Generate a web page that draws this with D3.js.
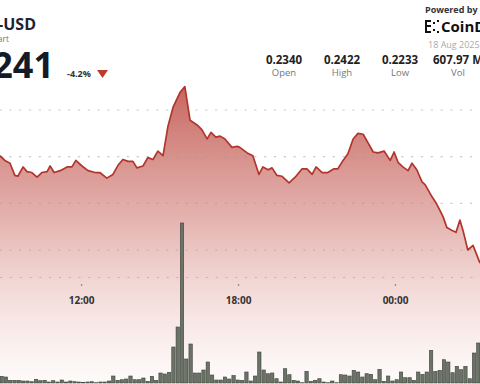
<!DOCTYPE html>
<html><head><meta charset="utf-8">
<script src="https://cdn.jsdelivr.net/npm/d3@7"></script>
<style>
html,body{margin:0;padding:0;background:#fff;}
svg{display:block;font-family:"Open Sans",sans-serif;}
</style></head>
<body>
<svg id="chart" width="480" height="384"></svg>
<script>
// ---- data ----
const symbol = "DOGE-USD";
const subtitle = "Chart";
const lastPrice = "0.2241";
const changePct = "-4.2%";
const dateLabel = "18 Aug 2025";
const statLabels = ["Open", "High", "Low", "Vol"];
const statValues = ["0.2340", "0.2422", "0.2233", "607.97 M"];
const tickLabels = ["12:00", "18:00", "00:00"];
const gridPrices = [0.225, 0.230, 0.235, 0.240];

const priceTimes = ["08:54","09:05","09:17","09:28","09:35","09:47","09:56","10:07","10:19","10:30","10:42","10:49","10:58","11:12","11:28","11:39","11:48","12:02","12:16","12:32","12:43","12:59","13:13","13:25","13:36","13:48","13:59","14:08","14:22","14:33","14:45","14:56","15:08","15:19","15:31","15:47","15:58","16:10","16:26","16:37","16:49","16:58","17:09","17:19","17:30","17:46","17:58","18:04","18:21","18:34","18:48","18:57","19:09","19:18","19:29","19:41","19:57","20:11","20:27","20:38","20:50","20:59","21:13","21:26","21:40","21:49","22:01","22:12","22:24","22:35","22:47","22:58","23:10","23:21","23:35","23:49","23:58","00:07","00:18","00:30","00:39","00:50","01:02","01:09","01:25","01:36","01:50","01:59","02:11","02:20","02:29","02:36","02:47","02:59","03:15"];
const prices = [0.2351,0.2346,0.2343,0.2330,0.2329,0.2339,0.2334,0.2333,0.2328,0.2333,0.2334,0.2340,0.2333,0.2335,0.2339,0.2339,0.2346,0.2340,0.2335,0.2333,0.2333,0.2327,0.2331,0.2341,0.2347,0.2345,0.2345,0.2338,0.2340,0.2349,0.2347,0.2356,0.2351,0.2382,0.2403,0.2419,0.2425,0.2389,0.2384,0.2379,0.2369,0.2376,0.2371,0.2372,0.2369,0.2360,0.2361,0.2360,0.2354,0.2351,0.2331,0.2339,0.2336,0.2338,0.2330,0.2329,0.2322,0.2328,0.2337,0.2337,0.2331,0.2339,0.2333,0.2333,0.2337,0.2337,0.2346,0.2353,0.2369,0.2375,0.2374,0.2365,0.2355,0.2354,0.2356,0.2346,0.2355,0.2344,0.2339,0.2335,0.2343,0.2336,0.2323,0.2320,0.2307,0.2299,0.2286,0.2274,0.2271,0.2269,0.2282,0.2271,0.2250,0.2255,0.2236];

const volumes = [6.7,6,2.7,2.7,2.7,2,2,1.3,3.7,2.3,2.7,1,2.3,1,3,1,2,1.3,1,0.7,1,1.3,0.3,1,1,2,7,2.7,3.3,4,7,3.3,3.3,5,1.7,6.7,2.7,10,9,10.7,36,56,160,24,39,10,10,13,21,8,3,3,6,4,7.5,3,
 2.7,11,2,7,31,13,9.3,10,4.3,1,14.3,8.3,2.7,2,0.3,11.7,1.7,2.7,4.3,1,0.3,2,0.3,8.3,8,7,12.7,11,6,9.3,8.7,3.3,13.7,1.7,7,2,3.3,11,5.3,5.3,2.7,11,8.7,11,32.7,11.7,12.7,23.3,21,10.3,16.7,13.3,16.7,4.3,30,40];

// ---- helpers ----
const day0 = "2025-08-17", day1 = "2025-08-18";
const parseT = d3.timeParse("%Y-%m-%d %H:%M");
const toDate = s => parseT((+s.slice(0,2) < 8 ? day1 : day0) + " " + s);
const series = priceTimes.map((t,i) => ({t: toDate(t), p: prices[i]}));

const W = 480, H = 384;
const svg = d3.select("#chart");

const x = d3.scaleTime().domain([toDate("08:54"), toDate("03:15")]).range([0, W]);
const y = d3.scaleLinear().domain([0.225, 0.240]).range([250, 110]);
const baseY = 383;

// gradient
const defs = svg.append("defs");
const grad = defs.append("linearGradient").attr("id","fillGrad")
  .attr("gradientUnits","userSpaceOnUse").attr("x1",0).attr("x2",0).attr("y1",85).attr("y2",baseY);
grad.append("stop").attr("offset","0").attr("stop-color","#bd4a42").attr("stop-opacity",0.85);
grad.append("stop").attr("offset","0.45").attr("stop-color","#c9675f").attr("stop-opacity",0.5);
grad.append("stop").attr("offset","1").attr("stop-color","#e9b3ad").attr("stop-opacity",0.06);

// area + line
const area = d3.area().x(d => x(d.t)).y0(baseY).y1(d => y(d.p));
svg.append("path").datum(series).attr("d", area).attr("fill","url(#fillGrad)");

// grid lines (dotted)
svg.append("g").selectAll("line").data(gridPrices).join("line")
  .attr("x1",0).attr("x2",W).attr("y1",d=>y(d)).attr("y2",d=>y(d))
  .attr("stroke","#9a9a9a").attr("stroke-opacity",0.55).attr("stroke-width",1.2)
  .attr("stroke-dasharray","1.2 8.6").attr("stroke-linecap","round");

const line = d3.line().x(d => x(d.t)).y(d => y(d.p));
svg.append("path").datum(series).attr("d", line).attr("fill","none")
  .attr("stroke","#b2352d").attr("stroke-width",1.7).attr("stroke-linejoin","round");

// x axis
const axisY = 277;
const xAxis = d3.axisBottom(x).tickValues(tickLabels.map(toDate)).tickFormat(d3.timeFormat("%H:%M")).tickSize(0).tickPadding(20);
const gx = svg.append("g").attr("transform",`translate(0,${axisY})`).call(xAxis);
gx.select(".domain").attr("stroke","#9a9a9a").attr("stroke-opacity",0.55).attr("stroke-width",1.2)
  .attr("stroke-dasharray","1.2 8.6").attr("stroke-linecap","round");
gx.selectAll(".tick text").attr("font-size",10).attr("font-weight","bold").attr("fill","#333")
  .attr("font-family","Open Sans, sans-serif");
gx.selectAll(".tick").append("circle").attr("cx",0).attr("cy",8).attr("r",0.8).attr("fill","#666");

// volume bars
const xb = d3.scaleBand().domain(d3.range(volumes.length)).range([0, W]).paddingInner(0.22);
const yv = d3.scaleLinear().domain([0, 160]).range([baseY, 223]);
svg.append("g").selectAll("rect").data(volumes).join("rect")
  .attr("x",(d,i)=>xb(i)).attr("width",xb.bandwidth())
  .attr("y",d=>yv(d)).attr("height",d=>baseY - yv(d))
  .attr("fill","#6b7266").attr("stroke","#3e433b").attr("stroke-width",0.6);

// ---- header ----
svg.append("text").attr("x",36).attr("y",30).attr("text-anchor","end")
  .attr("font-size",16).attr("font-weight","bold").attr("fill","#1d2330").text(symbol);
svg.append("text").attr("x",9).attr("y",42).attr("text-anchor","end")
  .attr("font-size",8.5).attr("fill","#777").text(subtitle);
svg.append("text").attr("x",54).attr("y",78).attr("text-anchor","end")
  .attr("font-size",36).attr("font-weight","bold").attr("fill","#141a26").text(lastPrice);
svg.append("text").attr("x",67).attr("y",77)
  .attr("font-size",9).attr("font-weight","bold").attr("fill","#333").text(changePct);
svg.append("path").attr("d","M97,70 L108,70 L102.5,78 Z").attr("fill","#c0392b");

// powered by
svg.append("text").attr("x",425).attr("y",13).attr("font-size",9).attr("font-weight","bold").attr("fill","#333").text("Powered by");
const logo = svg.append("g").attr("fill","#111");
[[425,20,2,13],[425,20,6,2],[425,31,6,2],[427,25,4,2],[433,22,2,2],[433,29,2,2],[437,20,2,2],[437,31,2,2]].forEach(r=>{
  logo.append("rect").attr("x",r[0]).attr("y",r[1]).attr("width",r[2]).attr("height",r[3]);
});
svg.append("text").attr("x",441).attr("y",32).attr("font-size",15).attr("font-weight","bold").attr("fill","#111").text("CoinDesk");
svg.append("text").attr("x",428).attr("y",48).attr("font-size",9).attr("fill","#aaa").text(dateLabel);

// stats
const statX = d3.scalePoint().domain(statLabels).range([284, 458]);
statLabels.forEach((lab,i)=>{
  svg.append("text").attr("x",statX(lab)).attr("y",64).attr("text-anchor","middle")
    .attr("font-size",11.5).attr("font-weight","bold").attr("fill","#222").text(statValues[i]);
  svg.append("text").attr("x",statX(lab)).attr("y",76).attr("text-anchor","middle")
    .attr("font-size",9.5).attr("fill","#777").text(lab);
});
</script>
</body></html>
